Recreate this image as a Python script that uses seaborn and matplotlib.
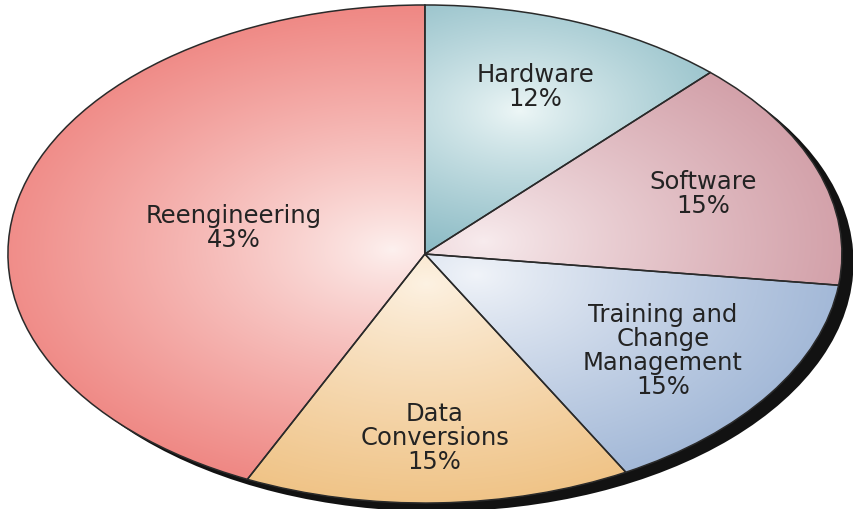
import numpy as np
import matplotlib
matplotlib.use("Agg")
import matplotlib.pyplot as plt
import seaborn as sns
from matplotlib.colors import to_rgb

labels = ["Hardware", "Software", "Training and\nChange\nManagement",
          "Data\nConversions", "Reengineering"]
shares = [12, 15, 15, 15, 43]
rim_colors = ["#78afbb", "#d09ba4", "#9db4d5", "#efc182", "#ef8682"]
glow_colors = ["#eef7f7", "#f8ecee", "#f1f4f9", "#fdf2e3", "#fdf1ef"]

# layout of the labels / highlights (radius along each slice's middle)
label_r = [0.72, 0.71, 0.69, 0.74, 0.47]
glow_r = [0.62, 0.15, 0.15, 0.12, 0.08]
glow_spread = [0.75, 0.95, 0.95, 0.95, 1.0]

sns.set_theme(style="white")
plt.rcParams["font.family"] = ["DejaVu Sans"]

fig = plt.figure(figsize=(8.54, 5.09), dpi=100)
ax = fig.add_axes([0, 0, 1, 1])

# dark drop shadow behind the pie
ax.pie([1], colors=["#121212"], center=(0.028, -0.034),
       wedgeprops=dict(linewidth=0))

wedges, _ = ax.pie(shares, startangle=90, counterclock=False, colors=rim_colors,
                   wedgeprops=dict(edgecolor="#2a2a2a", linewidth=1.1))

x0, x1 = -1.019, 1.029
y0, y1 = -1.024, 1.020
ax.set_aspect("auto")
ax.set_xlim(x0, x1)
ax.set_ylim(y0, y1)
ax.axis("off")

xs = np.linspace(x0, x1, 600)
ys = np.linspace(y1, y0, 400)
X, Y = np.meshgrid(xs, ys)

for i, w in enumerate(wedges):
    mid = np.deg2rad((w.theta1 + w.theta2) / 2)
    hx, hy = glow_r[i] * np.cos(mid), glow_r[i] * np.sin(mid)
    t = np.clip(np.hypot(X - hx, Y - hy) / glow_spread[i], 0, 1) ** 0.85
    c0 = np.array(to_rgb(glow_colors[i]))
    c1 = np.array(to_rgb(rim_colors[i]))
    img = c0 * (1 - t[..., None]) + c1 * t[..., None]
    im = ax.imshow(img, extent=(x0, x1, y0, y1), aspect="auto", zorder=2,
                   interpolation="bilinear")
    im.set_clip_path(w)
    w.set_facecolor("none")
    w.set_zorder(3)

    tx, ty = label_r[i] * np.cos(mid), label_r[i] * np.sin(mid)
    ax.text(tx, ty, f"{labels[i]}\n{shares[i]}%", ha="center", va="center",
            fontsize=17.5, color="#232323", linespacing=1.0, zorder=4)

fig.savefig("out.png", dpi=100, facecolor="white")
